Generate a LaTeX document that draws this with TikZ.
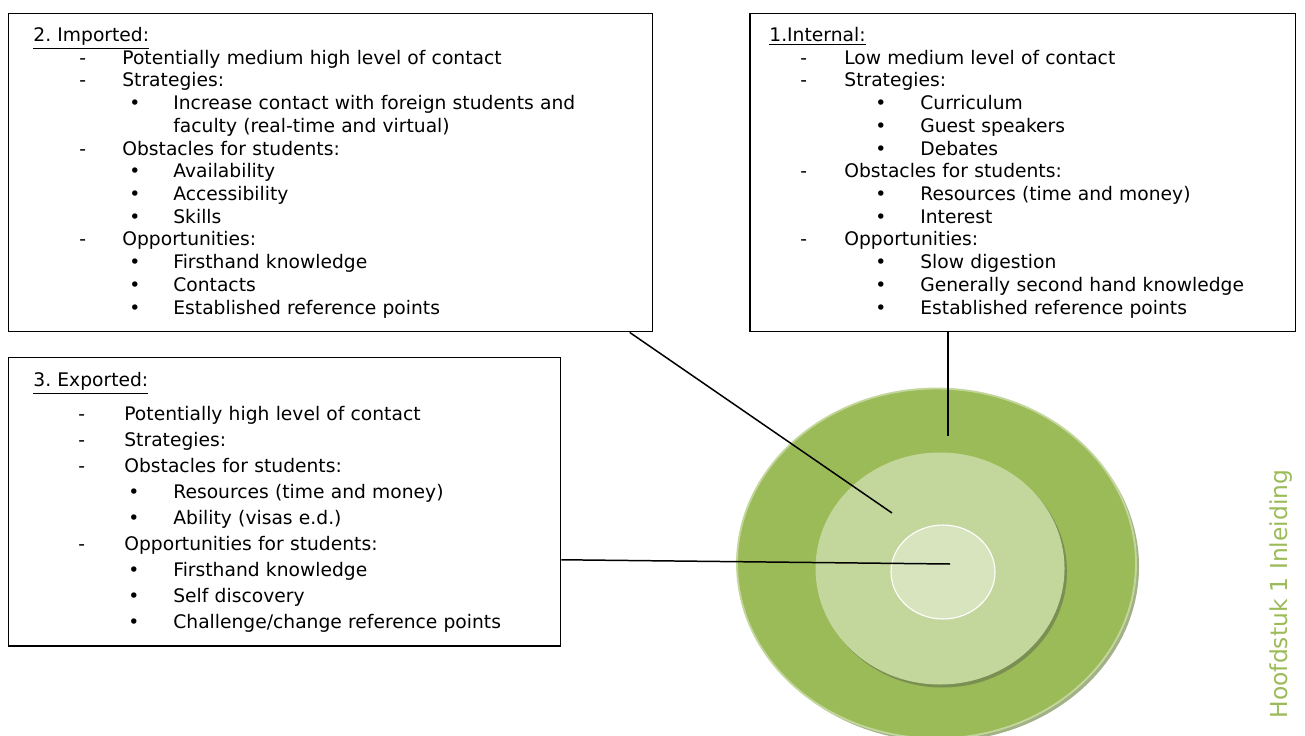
\documentclass[tikz,border=0pt]{standalone}
\usepackage{fontspec}
\setmainfont{DejaVu Sans}
\frenchspacing

\definecolor{ringdark}{HTML}{9BBB59}
\definecolor{ringmid}{HTML}{C3D69B}
\definecolor{ringlight}{HTML}{D7E4BD}
\definecolor{ringshade}{HTML}{7A8F52}

\newlength\px \setlength\px{0.535pt}
\newlength\dashin \newlength\dashgap \newlength\dotin \newlength\dotgap
\newcommand\indents[4]{\setlength\dashin{#1\px}\setlength\dashgap{#2\px}%
  \setlength\dotin{#3\px}\setlength\dotgap{#4\px}}
\newcommand\dashitem[1]{\hspace*{\dashin}\makebox[\dashgap][l]{-}#1\par}
\newcommand\dotitem[1]{\hspace*{\dotin}\makebox[\dotgap][l]{\textbullet}#1\par}
\newcommand\moreitem[1]{\hspace*{\dimexpr\dotin+\dotgap\relax}#1\par}

\tikzset{
  listbox/.style={draw, line width=0.8pt, anchor=north west, inner sep=0pt},
  listtext/.style={anchor=base west, inner sep=0pt, text width=#1,
    font=\fontsize{10}{12.15}\selectfont},
  leader/.style={line width=0.8pt},
}

\begin{document}
\begin{tikzpicture}[x=0.535pt, y=-0.535pt]
	\useasboundingbox (0,0) rectangle (1305,736);

	% rings
	\fill[ringshade!70] (939.5,566.5) ellipse [x radius=199.5, y radius=175];
	\filldraw[fill=ringdark, draw=ringmid, line width=1pt] (936.5,563.5) ellipse [x radius=199.5, y radius=175];
	\fill[ringshade] (942.5,571.5) ellipse [x radius=124.5, y radius=116];
	\fill[ringmid] (940,568.5) ellipse [x radius=124.5, y radius=116];
	\filldraw[fill=ringlight, draw=white, line width=0.6pt] (943,572) ellipse [x radius=52, y radius=47];

	\coordinate (outer pin) at (948,436);
	\coordinate (mid pin) at (892,513);
	\coordinate (core pin) at (950,564);

	% boxes
	\node[listbox, minimum width=344.5pt, minimum height=170.1pt] (imported) at (8,13) {};
	\node[listbox, minimum width=292.1pt, minimum height=170.1pt] (internal) at (749,13) {};
	\node[listbox, minimum width=295.3pt, minimum height=154.1pt] (exported) at (8,357) {};

	\node[listtext=330pt] (imported text) at (33,41.5) {\indents{46}{43}{96}{44}%
		\underline{2. Imported:}\par
		\dashitem{Potentially medium high level of contact}
		\dashitem{Strategies:}
		\dotitem{Increase contact with foreign students and}
		\moreitem{faculty (real-time and virtual)}
		\dashitem{Obstacles for students:}
		\dotitem{Availability}
		\dotitem{Accessibility}
		\dotitem{Skills}
		\dashitem{Opportunities:}
		\dotitem{Firsthand knowledge}
		\dotitem{Contacts}
		\dotitem{Established reference points}};

	\node[listtext=275pt] (internal text) at (769,41.5) {\indents{31}{44}{106}{45}%
		\underline{1.Internal:}\par
		\dashitem{Low medium level of contact}
		\dashitem{Strategies:}
		\dotitem{Curriculum}
		\dotitem{Guest speakers}
		\dotitem{Debates}
		\dashitem{Obstacles for students:}
		\dotitem{Resources (time and money)}
		\dotitem{Interest}
		\dashitem{Opportunities:}
		\dotitem{Slow digestion}
		\dotitem{Generally second hand knowledge}
		\dotitem{Established reference points}};

	\node[listtext=280pt] (exported text) at (33,386.5) {\indents{45}{46}{95}{45}%
		\fontsize{10}{13.9}\selectfont
		\underline{3. Exported:}\par\vspace{4.3pt}
		\dashitem{Potentially high level of contact}
		\dashitem{Strategies:}
		\dashitem{Obstacles for students:}
		\dotitem{Resources (time and money)}
		\dotitem{Ability (visas e.d.)}
		\dashitem{Opportunities for students:}
		\dotitem{Firsthand knowledge}
		\dotitem{Self discovery}
		\dotitem{Challenge/change reference points}};

	% leader lines
	\draw[leader] (internal.south -| outer pin) -- (outer pin);
	\draw[leader] ([shift={(299,0)}]imported.south) -- (mid pin);
	\draw[leader] ([shift={(0,58)}]exported.east) -- (core pin);

	\node[rotate=90, text=ringdark, font=\fontsize{12.5}{15}\selectfont] (chapter) at (1281,594) {Hoofdstuk 1 Inleiding};
\end{tikzpicture}
\end{document}
